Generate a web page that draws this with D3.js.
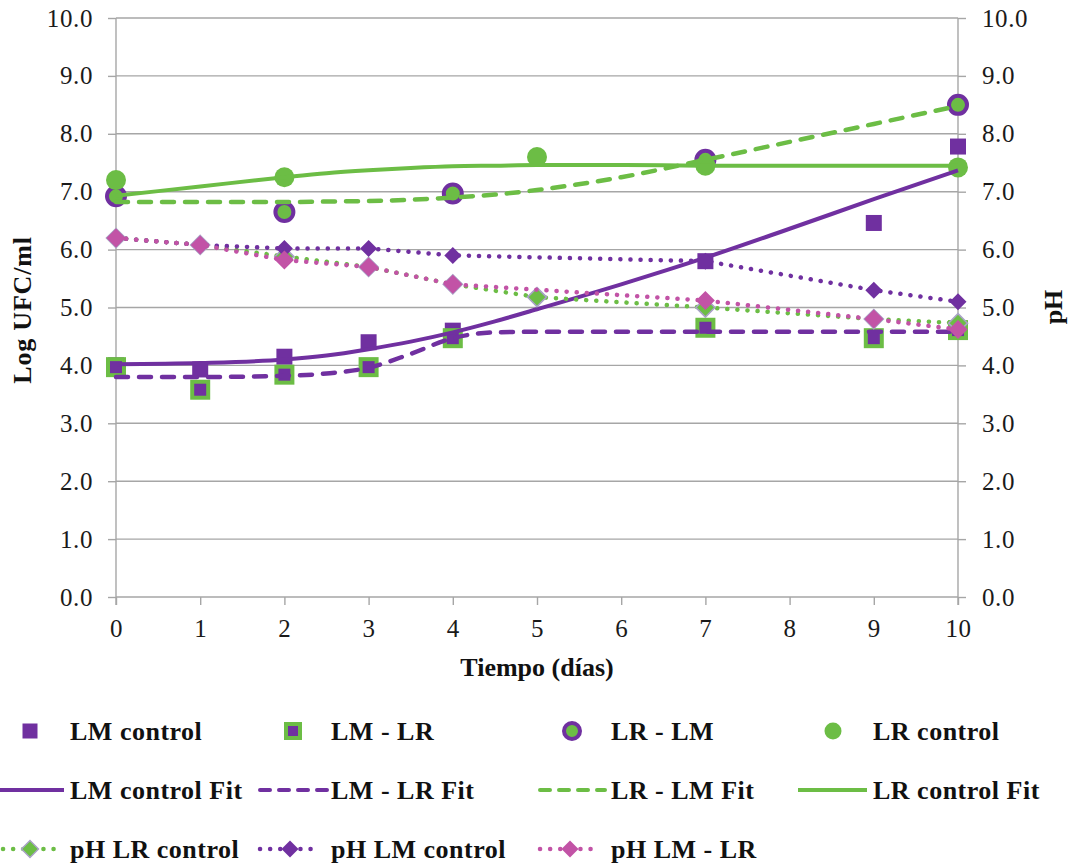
<!DOCTYPE html>
<html>
<head>
<meta charset="utf-8">
<script src="https://cdn.jsdelivr.net/npm/d3@7"></script>
<style>
  html, body { margin: 0; padding: 0; background: #ffffff; }
  svg { display: block; }
  text { font-family: "Liberation Serif", "Times New Roman", Times, serif; }
</style>
</head>
<body>
<svg id="chart" width="1071" height="865"></svg>
<script>
// ---- Axis ticks ----
const xTicks = [0, 1, 2, 3, 4, 5, 6, 7, 8, 9, 10];
const yTicks = [0, 1, 2, 3, 4, 5, 6, 7, 8, 9, 10];
const pHTicks = [0, 1, 2, 3, 4, 5, 6, 7, 8, 9, 10];

// ---- Counts (Log UFC/ml) ----
const lmControlDays = [0, 1, 2, 3, 4, 7, 9, 10];
const lmControl     = [4.00, 3.93, 4.15, 4.40, 4.60, 5.80, 6.46, 7.78];
const lmLrDays      = [0, 1, 2, 3, 4, 7, 9, 10];
const lmLr          = [3.97, 3.58, 3.84, 3.97, 4.47, 4.65, 4.47, 4.61];
const lrLmDays      = [0, 2, 4, 7, 10];
const lrLm          = [6.92, 6.65, 6.97, 7.55, 8.50];
const lrControlDays = [0, 2, 5, 7, 10];
const lrControl     = [7.20, 7.25, 7.60, 7.45, 7.42];

// ---- Fitted growth curves ----
const fitDays      = [0, 1, 2, 2.5, 3, 3.5, 4, 4.5, 5, 6, 7, 8, 9, 10];
const lmControlFit = [4.02, 4.04, 4.10, 4.17, 4.28, 4.41, 4.57, 4.76, 4.97, 5.40, 5.86, 6.36, 6.87, 7.37];
const lmLrFit      = [3.80, 3.80, 3.82, 3.86, 3.96, 4.20, 4.47, 4.57, 4.58, 4.58, 4.58, 4.58, 4.58, 4.58];
const lrLmFit      = [6.82, 6.82, 6.82, 6.83, 6.84, 6.86, 6.90, 6.95, 7.03, 7.25, 7.55, 7.86, 8.17, 8.48];
const lrControlFit = [6.93, 7.09, 7.25, 7.32, 7.37, 7.41, 7.44, 7.45, 7.46, 7.46, 7.45, 7.45, 7.45, 7.45];

// ---- pH ----
const pHLrControlDays = [0, 1, 2, 3, 4, 5, 7, 9, 10];
const pHLrControl     = [6.20, 6.08, 5.88, 5.70, 5.40, 5.18, 5.00, 4.80, 4.73];
const pHLmControlDays = [0, 1, 2, 3, 4, 7, 9, 10];
const pHLmControl     = [6.20, 6.08, 6.02, 6.02, 5.90, 5.80, 5.30, 5.10];
const pHLmLrDays      = [0, 1, 2, 3, 4, 7, 9, 10];
const pHLmLr          = [6.20, 6.08, 5.82, 5.70, 5.40, 5.12, 4.80, 4.62];

// ---- Style ----
const PURPLE = "#7030a0";
const GREEN = "#6cbd45";
const PINK = "#c253a6";
const GRID = "#a6a6a6";
const SERIF = "Liberation Serif, Times New Roman, Times, serif";

const svg = d3.select("#chart");
const plot = { left: 116, right: 958, top: 18, bottom: 597 };

const x = d3.scaleLinear().domain([0, 10]).range([plot.left, plot.right]);
const y = d3.scaleLinear().domain([0, 10]).range([plot.bottom, plot.top]);
const y2 = d3.scaleLinear().domain([0, 10]).range([plot.bottom, plot.top]);

const zip = (xs, ys) => xs.map((d, i) => [d, ys[i]]);

// ---- Gridlines ----
svg.append("g")
  .selectAll("line")
  .data(yTicks)
  .join("line")
  .attr("x1", plot.left).attr("x2", plot.right)
  .attr("y1", d => y(d)).attr("y2", d => y(d))
  .attr("stroke", GRID).attr("stroke-width", 1.4);

// ---- Axes ----
function styleAxis(g) {
  g.attr("font-family", SERIF).attr("font-size", 25);
  g.select(".domain").remove();
  g.selectAll(".tick line").attr("stroke", GRID).attr("stroke-width", 1.4);
  g.selectAll(".tick text")
    .attr("fill", "#1a1a1a")
    .attr("font-family", SERIF)
    .attr("font-size", 25)
    .attr("letter-spacing", "0.6px");
}

svg.append("g")
  .attr("transform", `translate(${plot.left},0)`)
  .call(d3.axisLeft(y).tickValues(yTicks).tickSize(8).tickPadding(15).tickFormat(d3.format(".1f")))
  .call(styleAxis);

svg.append("g")
  .attr("transform", `translate(${plot.right},0)`)
  .call(d3.axisRight(y2).tickValues(pHTicks).tickSize(8).tickPadding(16).tickFormat(d3.format(".1f")))
  .call(styleAxis);

svg.append("g")
  .attr("transform", `translate(0,${plot.bottom})`)
  .call(d3.axisBottom(x).tickValues(xTicks).tickSize(8).tickPadding(14).tickFormat(d3.format("d")))
  .call(styleAxis);

// Vertical axis lines (run down to the tick length below the baseline)
[plot.left, plot.right].forEach(px => {
  svg.append("line")
    .attr("x1", px).attr("x2", px)
    .attr("y1", plot.top).attr("y2", plot.bottom + 8)
    .attr("stroke", GRID).attr("stroke-width", 1.4);
});

// ---- Axis titles ----
function title(sel) {
  return sel.attr("font-family", SERIF).attr("font-size", 26).attr("font-weight", "bold")
    .attr("fill", "#111").attr("text-anchor", "middle");
}
svg.append("text")
  .attr("transform", "translate(31,310) rotate(-90)")
  .call(title)
  .attr("letter-spacing", "0.8px")
  .text("Log UFC/ml");

svg.append("text")
  .attr("transform", "translate(1062,307) rotate(-90)")
  .call(title)
  .text("pH");

svg.append("text")
  .attr("x", (plot.left + plot.right) / 2).attr("y", 676)
  .call(title)
  .text("Tiempo (días)");

// ---- Marker helpers ----
function squareMarker(g, pts, sc, size, fill, stroke, sw) {
  g.selectAll(null).data(pts).join("rect")
    .attr("x", d => x(d[0]) - size / 2).attr("y", d => sc(d[1]) - size / 2)
    .attr("width", size).attr("height", size)
    .attr("fill", fill)
    .attr("stroke", stroke || "none").attr("stroke-width", sw || 0);
}
function circleMarker(g, pts, sc, r, fill, stroke, sw) {
  g.selectAll(null).data(pts).join("circle")
    .attr("cx", d => x(d[0])).attr("cy", d => sc(d[1])).attr("r", r)
    .attr("fill", fill)
    .attr("stroke", stroke || "none").attr("stroke-width", sw || 0);
}
const diamondPath = s => `M0,${-s / 2}L${s / 2},0L0,${s / 2}L${-s / 2},0Z`;
function diamondMarker(g, pts, sc, s, fill, stroke, sw) {
  g.selectAll(null).data(pts).join("path")
    .attr("transform", d => `translate(${x(d[0])},${sc(d[1])})`)
    .attr("d", diamondPath(s))
    .attr("fill", fill)
    .attr("stroke", stroke || "none").attr("stroke-width", sw || 0);
}

const marks = svg.append("g");

// ---- Observed counts ----
squareMarker(marks.append("g"), zip(lmControlDays, lmControl), y, 16, PURPLE);
squareMarker(marks.append("g"), zip(lmLrDays, lmLr), y, 16, PURPLE, GREEN, 4);
circleMarker(marks.append("g"), zip(lrLmDays, lrLm), y, 9, GREEN, PURPLE, 4);
circleMarker(marks.append("g"), zip(lrControlDays, lrControl), y, 10, GREEN);

// ---- Fitted curves ----
const fitLine = d3.line().x(d => x(d[0])).y(d => y(d[1])).curve(d3.curveMonotoneX);
const fits = [
  { values: lmControlFit, color: PURPLE, dash: null },
  { values: lmLrFit, color: PURPLE, dash: "12,11" },
  { values: lrLmFit, color: GREEN, dash: "12,11" },
  { values: lrControlFit, color: GREEN, dash: null }
];
fits.forEach(f => {
  marks.append("path")
    .datum(zip(fitDays, f.values))
    .attr("d", fitLine)
    .attr("fill", "none")
    .attr("stroke", f.color)
    .attr("stroke-width", f.dash ? 4.5 : 4)
    .attr("stroke-linecap", f.dash ? "round" : "butt")
    .attr("stroke-dasharray", f.dash);
});

// ---- pH series (secondary axis) ----
const pHLine = d3.line().x(d => x(d[0])).y(d => y2(d[1]));
const pHSeries = [
  { days: pHLrControlDays, values: pHLrControl, color: GREEN, stroke: "#a9a2c6", sw: 1.6, size: 19 },
  { days: pHLmControlDays, values: pHLmControl, color: PURPLE, stroke: null, sw: 0, size: 17 },
  { days: pHLmLrDays, values: pHLmLr, color: PINK, stroke: null, sw: 0, size: 19 }
];
pHSeries.forEach(s => {
  const pts = zip(s.days, s.values);
  const g = marks.append("g");
  g.append("path")
    .datum(pts)
    .attr("d", pHLine)
    .attr("fill", "none")
    .attr("stroke", s.color)
    .attr("stroke-width", 4.5)
    .attr("stroke-linecap", "round")
    .attr("stroke-dasharray", "0.1,10");
  diamondMarker(g, pts, y2, s.size, s.color, s.stroke, s.sw);
});

// ---- Legend ----
const legendItems = [
  { label: "LM control", kind: "square", row: 0, col: 0 },
  { label: "LM - LR", kind: "squareBox", row: 0, col: 1 },
  { label: "LR - LM", kind: "ring", row: 0, col: 2 },
  { label: "LR control", kind: "dot", row: 0, col: 3 },
  { label: "LM control Fit", kind: "line", color: PURPLE, dash: null, row: 1, col: 0 },
  { label: "LM - LR Fit", kind: "line", color: PURPLE, dash: "10,9", row: 1, col: 1 },
  { label: "LR - LM Fit", kind: "line", color: GREEN, dash: "10,9", row: 1, col: 2 },
  { label: "LR control Fit", kind: "line", color: GREEN, dash: null, row: 1, col: 3 },
  { label: "pH LR control", kind: "ph", color: GREEN, stroke: "#a9a2c6", row: 2, col: 0 },
  { label: "pH LM control", kind: "ph", color: PURPLE, stroke: null, row: 2, col: 1 },
  { label: "pH LM - LR", kind: "ph", color: PINK, stroke: null, row: 2, col: 2 }
];
const rowY = [731, 790, 849];
const colText = [70, 331, 611, 873];
const colMark = [30, 293, 572, 833];
const colLineStart = [0, 257, 537, 798];
const colLineEnd = [64, 327, 605, 867];
const phLineEnd = [57, 320, 600];

const legend = svg.append("g");
legendItems.forEach(it => {
  const g = legend.append("g");
  const cy = rowY[it.row];
  if (it.kind === "square") {
    g.append("rect").attr("x", colMark[it.col] - 7.5).attr("y", cy - 7.5)
      .attr("width", 15).attr("height", 15).attr("fill", PURPLE);
  } else if (it.kind === "squareBox") {
    g.append("rect").attr("x", colMark[it.col] - 7).attr("y", cy - 7)
      .attr("width", 14).attr("height", 14).attr("fill", PURPLE)
      .attr("stroke", GREEN).attr("stroke-width", 4);
  } else if (it.kind === "ring") {
    g.append("circle").attr("cx", colMark[it.col]).attr("cy", cy).attr("r", 8)
      .attr("fill", GREEN).attr("stroke", PURPLE).attr("stroke-width", 4);
  } else if (it.kind === "dot") {
    g.append("circle").attr("cx", colMark[it.col]).attr("cy", cy).attr("r", 8.5)
      .attr("fill", GREEN);
  } else if (it.kind === "line") {
    g.append("line")
      .attr("x1", colLineStart[it.col] + (it.dash ? 3 : 0)).attr("x2", colLineEnd[it.col])
      .attr("y1", cy).attr("y2", cy)
      .attr("stroke", it.color).attr("stroke-width", 4)
      .attr("stroke-linecap", it.dash ? "round" : "butt")
      .attr("stroke-dasharray", it.dash);
  } else if (it.kind === "ph") {
    const x0 = colLineStart[it.col] + 3, x1 = phLineEnd[it.col];
    g.append("line")
      .attr("x1", x0).attr("x2", x1)
      .attr("y1", cy).attr("y2", cy)
      .attr("stroke", it.color).attr("stroke-width", 4.5)
      .attr("stroke-linecap", "round").attr("stroke-dasharray", "0.1,10");
    g.append("path")
      .attr("transform", `translate(${(x0 + x1) / 2},${cy})`)
      .attr("d", diamondPath(17))
      .attr("fill", it.color)
      .attr("stroke", it.stroke || "none").attr("stroke-width", it.stroke ? 1.4 : 0);
  }
  g.append("text")
    .attr("x", colText[it.col])
    .attr("y", cy + 9)
    .attr("font-family", SERIF).attr("font-size", 26).attr("font-weight", "bold")
    .attr("letter-spacing", "0.5px")
    .attr("fill", "#111")
    .text(it.label);
});
</script>
</body>
</html>
